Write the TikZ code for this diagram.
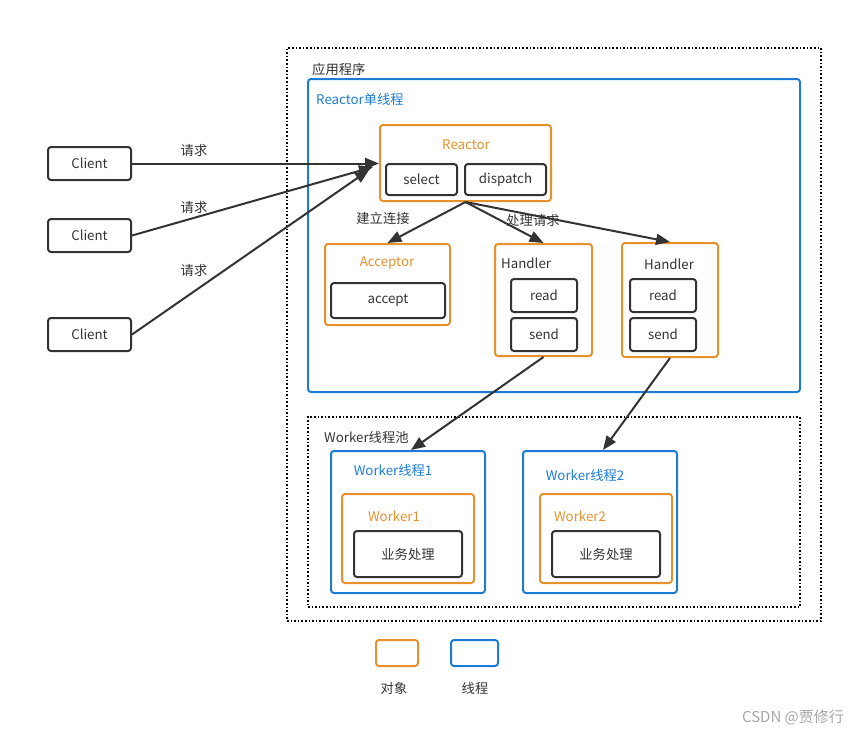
\documentclass[tikz,border=0pt]{standalone}
\usepackage{fontspec}
\setmainfont{Noto Sans CJK SC}
\usetikzlibrary{arrows.meta,calc}
\definecolor{objc}{HTML}{E6912C}
\definecolor{thrc}{HTML}{1C7CD5}
\definecolor{txtc}{HTML}{333333}
\tikzset{
  base/.style={rounded corners=3pt, line width=2pt, inner sep=0pt, font=\fontsize{13.3}{15}\selectfont, text=txtc},
  plain/.style={base, draw=txtc},
  obj/.style={base, draw=objc},
  thr/.style={base, draw=thrc},
  grp/.style={draw=black, line width=1.6pt, dash pattern=on 1.6pt off 2pt, inner sep=0pt},
  lbl/.style={font=\fontsize{13.3}{15}\selectfont, text=txtc, inner sep=0pt},
  olbl/.style={lbl, text=objc},
  blbl/.style={lbl, text=thrc},
  arr/.style={draw=txtc, line width=2pt, -{Triangle[length=14pt,width=11pt]}},
}
\begin{document}
\begin{tikzpicture}[x=1pt,y=-1pt]
\useasboundingbox (0,0) rectangle (853,732);
% outer groups
\node[grp, minimum width=534pt, minimum height=573pt] (app) at (554,334.5) {};
\node[lbl, anchor=west] (applbl) at (312,69) {应用程序};
\node[thr, minimum width=492pt, minimum height=313pt] (rth) at (554,235.5) {};
\node[blbl, anchor=west] (rthlbl) at (316,99) {Reactor单线程};
\node[grp, minimum width=492pt, minimum height=190pt] (pool) at (554,512) {};
\node[lbl, anchor=west] (poollbl) at (324,437) {Worker线程池};
% reactor
\node[obj, minimum width=171pt, minimum height=76pt] (reactor) at (465.5,163) {};
\node[olbl] (reactorlbl) at (466,145) {Reactor};
\node[plain, minimum width=71pt, minimum height=31pt] (select) at (421.5,179.5) {select};
\node[plain, minimum width=81pt, minimum height=31pt] (dispatch) at (505.5,179.5) {dispatch};
% acceptor
\node[obj, minimum width=125pt, minimum height=81pt] (acceptor) at (387.5,284.5) {};
\node[olbl] (acclbl) at (387,263) {Acceptor};
\node[plain, minimum width=114pt, minimum height=35pt] (accept) at (388,300.5) {accept};
% handler 1
\node[obj, minimum width=97pt, minimum height=112pt] (h1) at (543.5,300) {};
\node[lbl, anchor=west] (h1lbl) at (501,263) {Handler};
\node[plain, minimum width=66pt, minimum height=33pt] (read1) at (544,295.5) {read};
\node[plain, minimum width=66pt, minimum height=33pt] (send1) at (544,334.5) {send};
% handler 2
\node[obj, minimum width=96pt, minimum height=114pt] (h2) at (670,300) {};
\node[lbl] (h2lbl) at (669,264) {Handler};
\node[plain, minimum width=66pt, minimum height=33pt] (read2) at (663,295.5) {read};
\node[plain, minimum width=66pt, minimum height=33pt] (send2) at (663,334.5) {send};
% clients
\node[plain, minimum width=83pt, minimum height=33pt] (c1) at (89.5,163.5) {Client};
\node[plain, minimum width=83pt, minimum height=33pt] (c2) at (89.5,235.5) {Client};
\node[plain, minimum width=83pt, minimum height=33pt] (c3) at (89.5,334.5) {Client};
\node[lbl] (q1) at (194,150) {请求};
\node[lbl] (q2) at (194,207) {请求};
\node[lbl] (q3) at (194,270) {请求};
% workers
\node[thr, minimum width=154pt, minimum height=142pt] (w1) at (408,522) {};
\node[blbl] (w1lbl) at (393,470) {Worker线程1};
\node[obj, minimum width=132pt, minimum height=89pt] (wk1) at (408,538.5) {};
\node[olbl] (wk1lbl) at (394,516) {Worker1};
\node[plain, minimum width=108pt, minimum height=46pt] (biz1) at (408,554) {业务处理};
\node[thr, minimum width=154pt, minimum height=142pt] (w2) at (600,522) {};
\node[blbl] (w2lbl) at (585,475) {Worker线程2};
\node[obj, minimum width=132pt, minimum height=89pt] (wk2) at (606,538.5) {};
\node[olbl] (wk2lbl) at (580,516) {Worker2};
\node[plain, minimum width=108pt, minimum height=46pt] (biz2) at (606,554) {业务处理};
% connectors
\coordinate (rin2) at (373,167);
\coordinate (rin3) at (369,170);
\draw[arr] (c1.east) -- (reactor.west |- c1.east);
\draw[arr] (c2.east) -- (rin2);
\draw[arr] (c3.east) -- (rin3);
\draw[arr] (reactor.south) -- (acceptor.north);
\draw[arr] (reactor.south) -- (h1.north);
\draw[arr] (reactor.south) -- (h2.north);
\node[lbl] (l1) at (383,218) {建立连接};
\node[lbl] (l2) at (533,220) {处理请求};
\draw[arr] (h1.south) -- ($(w1.north)+(3,0)$);
\draw[arr] (h2.south) -- ($(w2.north)+(3,0)$);
% legend
\node[obj, minimum width=42pt, minimum height=26pt] (legobj) at (397,653) {};
\node[thr, minimum width=47pt, minimum height=26pt] (legthr) at (474.5,653) {};
\node[lbl] (legobjlbl) at (394,688) {对象};
\node[lbl] (legthrlbl) at (475,688) {线程};
\node[lbl, text=black!35, font=\fontsize{15}{17}\selectfont] (wm) at (793,717) {CSDN @贾修行};
\end{tikzpicture}
\end{document}
